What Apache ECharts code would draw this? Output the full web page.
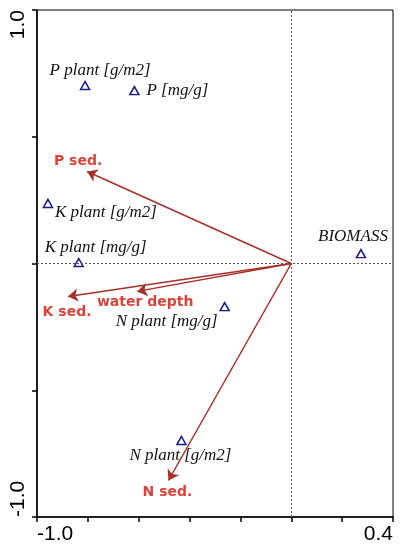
<!DOCTYPE html>
<html>
<head>
<meta charset="utf-8">
<script src="https://cdn.jsdelivr.net/npm/echarts@6/dist/echarts.min.js"></script>
<style>
	html, body { margin: 0; padding: 0; background: #fff; }
	#chart { width: 401px; height: 550px; }
</style>
</head>
<body>
<div id="chart"></div>
<script>
// species scores (triangles)
var speciesNames = ['P plant [g/m2]', 'P [mg/g]', 'K plant [g/m2]', 'K plant [mg/g]', 'N plant [mg/g]', 'N plant [g/m2]', 'BIOMASS'];
var speciesX = [-0.811, -0.617, -0.957, -0.836, -0.262, -0.432, 0.274];
var speciesY = [0.702, 0.682, 0.237, 0.004, -0.170, -0.698, 0.039];

// environmental vectors (arrows from origin)
var envNames = ['P sed.', 'K sed.', 'water depth', 'N sed.'];
var envX = [-0.803, -0.878, -0.606, -0.483];
var envY = [0.363, -0.130, -0.110, -0.856];

// tick labels shown only at the axis ends
var xTickLabels = ['-1.0', '0.4'];
var yTickLabels = ['-1.0', '1.0'];

/*
 label offsets in pixels, relative to the marker
 */
var SPECIES_LABEL_OFFSET = {
	'P plant [g/m2]'	: [15, -15],
	'P [mg/g]'			: [43, 0],
	'K plant [g/m2]'	: [58, 9],
	'K plant [mg/g]'	: [17, -15],
	'N plant [mg/g]'	: [-58, 15],
	'N plant [g/m2]'	: [-1, 15],
	'BIOMASS'			: [-8, -17]
};
var ENV_LABEL_OFFSET = {
	'P sed.'		: [-9, -10],
	'K sed.'		: [-1, 16],
	'water depth'	: [8, 11],
	'N sed.'		: [-1, 12]
};

function tickFormatter(labels) {
	return function(value) {
		var txt = (Math.abs(value) < 1e-9 ? 0 : value).toFixed(1);
		return labels.indexOf(txt) != -1 ? txt : '';
	};
}

function buildSpeciesData() {
	var arr = [];
	for(var i=0; i<speciesNames.length; i++) {
		arr.push({
			name: speciesNames[i],
			value: [speciesX[i], speciesY[i]],
			label: { offset: SPECIES_LABEL_OFFSET[speciesNames[i]] }
		});
	}
	return arr;
}

function buildArrowData() {
	var arr = [];
	for(var i=0; i<envNames.length; i++) {
		arr.push({ name: envNames[i], coords: [[0, 0], [envX[i], envY[i]]] });
	}
	return arr;
}

function buildEnvLabelData() {
	var arr = [];
	for(var i=0; i<envNames.length; i++) {
		arr.push({
			name: envNames[i],
			value: [envX[i], envY[i]],
			label: { offset: ENV_LABEL_OFFSET[envNames[i]] }
		});
	}
	return arr;
}

var chart = echarts.init(document.getElementById('chart'));
var option = {
	animation: false,
	grid: {
		left: 37,
		right: 8,
		top: 10,
		bottom: 33,
		show: true,
		borderColor: '#000',
		borderWidth: 1,
		backgroundColor: 'transparent'
	},
	xAxis: {
		type: 'value',
		min: -1.0,
		max: 0.4,
		interval: 0.2,
		axisLine: { onZero: false, lineStyle: { color: '#000', width: 1.5 } },
		axisTick: { show: true, length: 5, lineStyle: { color: '#000', width: 1.5 } },
		splitLine: { show: false },
		axisLabel: {
			formatter: tickFormatter(xTickLabels),
			color: '#000',
			fontFamily: 'Liberation Sans',
			fontSize: 21,
			margin: 7,
			alignMinLabel: 'left',
			alignMaxLabel: 'right'
		}
	},
	yAxis: {
		type: 'value',
		min: -1.0,
		max: 1.0,
		interval: 0.5,
		axisLine: { onZero: false, lineStyle: { color: '#000', width: 1.5 } },
		axisTick: { show: true, length: 5, lineStyle: { color: '#000', width: 1.5 } },
		splitLine: { show: false },
		axisLabel: {
			formatter: tickFormatter(yTickLabels),
			color: '#000',
			fontFamily: 'Liberation Sans',
			fontSize: 21,
			margin: 8,
			rotate: 90,
			alignMinLabel: 'left',
			alignMaxLabel: 'right'
		}
	},
	series: [{
		type: 'lines',
		coordinateSystem: 'cartesian2d',
		symbol: ['none', 'arrow'],
		symbolSize: 10,
		silent: true,
		lineStyle: { color: '#a8302a', width: 1.5, opacity: 1 },
		data: buildArrowData(),
		z: 3
	}, {
		type: 'scatter',
		symbol: 'triangle',
		symbolSize: [9, 8],
		itemStyle: { color: 'transparent', borderColor: '#1a1a8c', borderWidth: 1.5, opacity: 1 },
		label: {
			show: true,
			position: 'inside',
			formatter: '{b}',
			color: '#111',
			textBorderWidth: 0,
			fontFamily: 'Liberation Serif',
			fontStyle: 'italic',
			fontSize: 17
		},
		data: buildSpeciesData(),
		markLine: {
			silent: true,
			symbol: ['none', 'none'],
			label: { show: false },
			lineStyle: { color: '#555', type: [2, 2], width: 1 },
			data: [{ xAxis: 0 }, { yAxis: 0 }]
		},
		z: 4
	}, {
		type: 'scatter',
		symbolSize: 0,
		silent: true,
		itemStyle: { opacity: 1 },
		label: {
			show: true,
			position: 'inside',
			formatter: '{b}',
			color: '#d9443a',
			textBorderWidth: 0,
			fontFamily: 'DejaVu Sans',
			fontWeight: 'bold',
			fontSize: 14
		},
		data: buildEnvLabelData(),
		z: 5
	}]
};
chart.setOption(option);
</script>
</body>
</html>
